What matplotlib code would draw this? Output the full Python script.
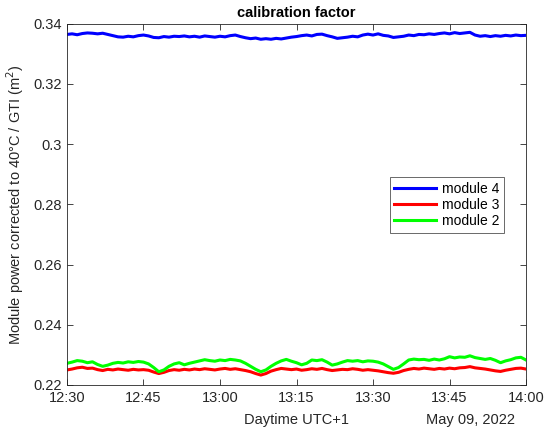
#import libraries
import numpy as np
import pandas as pd
import matplotlib
matplotlib.use('Agg')
import matplotlib.pyplot as plt
import matplotlib.dates as mdates

plt.rcParams['font.family'] = ['Liberation Sans', 'DejaVu Sans']

#data, one value per minute from 12:30 to 14:00
start_time = '2022-05-09 12:30'
module4 = [0.3364, 0.3366, 0.3363, 0.3367, 0.3369, 0.3368, 0.3366, 0.3368, 0.3364, 0.3360,
           0.3356, 0.3355, 0.3358, 0.3356, 0.3360, 0.3362, 0.3359, 0.3354, 0.3353, 0.3357,
           0.3355, 0.3358, 0.3357, 0.3359, 0.3356, 0.3358, 0.3355, 0.3359, 0.3357, 0.3355,
           0.3358, 0.3356, 0.3360, 0.3362, 0.3357, 0.3353, 0.3350, 0.3352, 0.3348, 0.3350,
           0.3348, 0.3351, 0.3349, 0.3352, 0.3355, 0.3357, 0.3360, 0.3362, 0.3359, 0.3364,
           0.3365, 0.3360, 0.3356, 0.3351, 0.3353, 0.3355, 0.3358, 0.3356, 0.3362, 0.3365,
           0.3362, 0.3366, 0.3361, 0.3359, 0.3354, 0.3356, 0.3358, 0.3362, 0.3360, 0.3364,
           0.3363, 0.3366, 0.3364, 0.3367, 0.3369, 0.3366, 0.3370, 0.3367, 0.3369, 0.3371,
           0.3362, 0.3358, 0.3360, 0.3357, 0.3360, 0.3358, 0.3361, 0.3359, 0.3362, 0.3360,
           0.3361]
module3 = [0.2250, 0.2253, 0.2257, 0.2259, 0.2255, 0.2256, 0.2251, 0.2248, 0.2252, 0.2250,
           0.2253, 0.2251, 0.2249, 0.2252, 0.2250, 0.2251, 0.2249, 0.2243, 0.2238, 0.2242,
           0.2248, 0.2251, 0.2249, 0.2252, 0.2250, 0.2253, 0.2251, 0.2254, 0.2252, 0.2250,
           0.2253, 0.2255, 0.2252, 0.2254, 0.2251, 0.2248, 0.2244, 0.2238, 0.2233, 0.2238,
           0.2246, 0.2251, 0.2255, 0.2253, 0.2251, 0.2253, 0.2249, 0.2251, 0.2254, 0.2252,
           0.2255, 0.2251, 0.2248, 0.2250, 0.2252, 0.2251, 0.2254, 0.2252, 0.2249, 0.2251,
           0.2249, 0.2247, 0.2244, 0.2241, 0.2239, 0.2242, 0.2248, 0.2252, 0.2255, 0.2253,
           0.2256, 0.2254, 0.2252, 0.2255, 0.2253, 0.2256, 0.2254, 0.2257, 0.2258, 0.2261,
           0.2257, 0.2255, 0.2253, 0.2250, 0.2247, 0.2245, 0.2249, 0.2252, 0.2255, 0.2256,
           0.2253]
module2 = [0.2272, 0.2276, 0.2281, 0.2279, 0.2274, 0.2277, 0.2268, 0.2262, 0.2266, 0.2272,
           0.2275, 0.2273, 0.2277, 0.2275, 0.2278, 0.2276, 0.2270, 0.2258, 0.2244, 0.2250,
           0.2262, 0.2270, 0.2274, 0.2267, 0.2272, 0.2276, 0.2280, 0.2284, 0.2281, 0.2279,
           0.2283, 0.2281, 0.2285, 0.2283, 0.2280, 0.2272, 0.2262, 0.2252, 0.2244, 0.2250,
           0.2262, 0.2272, 0.2280, 0.2285, 0.2279, 0.2274, 0.2267, 0.2272, 0.2283, 0.2281,
           0.2284, 0.2276, 0.2266, 0.2270, 0.2276, 0.2281, 0.2279, 0.2281, 0.2277, 0.2280,
           0.2279, 0.2276, 0.2270, 0.2261, 0.2252, 0.2258, 0.2270, 0.2283, 0.2286, 0.2284,
           0.2285, 0.2282, 0.2286, 0.2283, 0.2287, 0.2294, 0.2290, 0.2293, 0.2292, 0.2297,
           0.2291, 0.2288, 0.2285, 0.2288, 0.2282, 0.2274, 0.2280, 0.2284, 0.2290, 0.2292,
           0.2283]
labels = ['module 4', 'module 3', 'module 2']

times = pd.date_range(start_time, periods=len(module4), freq='min')

grey = (0.15, 0.15, 0.15)

fig = plt.figure(figsize=(5.5, 4.37), dpi=100)
ax = fig.add_axes([0.1218, 0.119, 0.8346, 0.827])

ax.plot(times, module4, color=(0, 0, 1), lw=2.2, label=labels[0])
ax.plot(times, module3, color=(1, 0, 0), lw=2.2, label=labels[1])
ax.plot(times, module2, color=(0, 1, 0), lw=2.2, label=labels[2])

ax.set_xlim(times[0], times[-1])
ax.set_ylim(0.22, 0.34)
ax.set_yticks(np.arange(0.22, 0.3401, 0.02))
ax.set_yticklabels(['0.22', '0.24', '0.26', '0.28', '0.3', '0.32', '0.34'])
ax.xaxis.set_major_locator(mdates.MinuteLocator(byminute=[0, 15, 30, 45]))
ax.xaxis.set_major_formatter(mdates.DateFormatter('%H:%M'))

ax.tick_params(direction='in', top=True, right=True, length=4, width=0.6,
               colors=grey, labelsize=10.5, pad=4)
for s in ax.spines.values():
    s.set_color(grey)
    s.set_linewidth(0.6)

ax.set_title('calibration factor', fontsize=10.5, fontweight='bold', color='black', pad=5)
ax.set_xlabel('Daytime UTC+1', fontsize=10.5, color=grey, labelpad=6)
ax.set_ylabel('Module power corrected to 40°C / GTI (m$^2$)', fontsize=10.5, color=grey, labelpad=5)
ax.text(0.975, -0.097, 'May 09, 2022', transform=ax.transAxes, ha='right', va='center',
        fontsize=10.5, color=grey)

leg = ax.legend(loc='center right', bbox_to_anchor=(0.952, 0.498), fontsize=10, frameon=True,
                fancybox=False, edgecolor=grey, handlelength=3.0, borderpad=0.35,
                labelspacing=0.15, handletextpad=0.4, borderaxespad=0)
leg.get_frame().set_linewidth(0.6)

plt.savefig('out.png', dpi=100)
